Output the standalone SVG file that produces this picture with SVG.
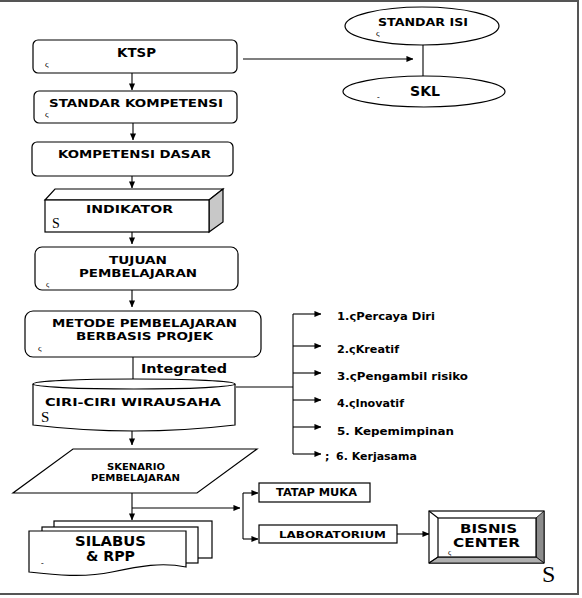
<svg xmlns="http://www.w3.org/2000/svg" width="582" height="598" viewBox="0 0 582 598">
<style>
.b{font-family:"DejaVu Sans",Verdana,sans-serif;font-weight:bold;fill:#000}
.g{font-family:"Liberation Serif","DejaVu Serif",serif;fill:#000}
.box{fill:#fff;stroke:#000;stroke-width:1.2}
.ln{stroke:#000;stroke-width:1.1;fill:none}
.frame{stroke:#555;stroke-width:2;fill:none}
</style>
<defs>
<marker id="ah" viewBox="0 0 8 8" refX="7.5" refY="4" markerWidth="7" markerHeight="7" markerUnits="userSpaceOnUse" orient="auto">
<path d="M0,0.5 L8,4 L0,7.5 Z" fill="#000"/>
</marker>
</defs>
<rect width="582" height="598" fill="#fff"/>
<path class="frame" d="M0,1 H578 V594 H0"/>

<g id="connectors">
<line class="ln" x1="132" y1="73" x2="132" y2="90" marker-end="url(#ah)"/>
<line class="ln" x1="133" y1="123" x2="133" y2="140" marker-end="url(#ah)"/>
<line class="ln" x1="132" y1="176" x2="132" y2="188" marker-end="url(#ah)"/>
<line class="ln" x1="132" y1="232" x2="132" y2="244" marker-end="url(#ah)"/>
<line class="ln" x1="132" y1="290" x2="132" y2="307" marker-end="url(#ah)"/>
<line class="ln" x1="133" y1="357" x2="133" y2="390" marker-end="url(#ah)"/>
<line class="ln" x1="132" y1="430" x2="132" y2="445" marker-end="url(#ah)"/>
<line class="ln" x1="132" y1="493" x2="132" y2="520" marker-end="url(#ah)"/>
<line class="ln" x1="243" y1="59" x2="413" y2="59" marker-end="url(#ah)"/>
<line class="ln" x1="423" y1="45" x2="423" y2="76"/>
<line class="ln" x1="236" y1="387" x2="293" y2="387"/>
<line class="ln" x1="293" y1="314" x2="293" y2="454"/>
<line class="ln" x1="293" y1="314" x2="321" y2="314" marker-end="url(#ah)"/>
<line class="ln" x1="293" y1="346" x2="321" y2="346" marker-end="url(#ah)"/>
<line class="ln" x1="293" y1="373" x2="321" y2="373" marker-end="url(#ah)"/>
<line class="ln" x1="293" y1="400" x2="321" y2="400" marker-end="url(#ah)"/>
<line class="ln" x1="293" y1="427" x2="321" y2="427" marker-end="url(#ah)"/>
<line class="ln" x1="293" y1="454" x2="321" y2="454" marker-end="url(#ah)"/>
<line class="ln" x1="132" y1="508" x2="240" y2="508" marker-end="url(#ah)"/>
<line class="ln" x1="243" y1="493" x2="243" y2="539"/>
<line class="ln" x1="243" y1="493" x2="258" y2="493" marker-end="url(#ah)"/>
<line class="ln" x1="243" y1="539" x2="258" y2="539" marker-end="url(#ah)"/>
<line class="ln" x1="397" y1="534" x2="429" y2="534" marker-end="url(#ah)"/>
</g>

<g id="ktsp">
<rect class="box" x="33" y="40" width="204" height="33" rx="5"/>
<text class="b" x="136.5" y="57" font-size="13" text-anchor="middle" textLength="39" lengthAdjust="spacingAndGlyphs">KTSP</text>
<text class="g" x="45" y="67" font-size="9">ς</text>
</g>

<g id="standar-kompetensi">
<rect class="box" x="34" y="91" width="203" height="32" rx="5"/>
<text class="b" x="136" y="107" font-size="11" text-anchor="middle" textLength="174" lengthAdjust="spacingAndGlyphs">STANDAR KOMPETENSI</text>
<text class="g" x="45" y="117" font-size="9">ς</text>
</g>

<g id="kompetensi-dasar">
<rect class="box" x="32" y="142" width="201" height="34" rx="5"/>
<text class="b" x="134.5" y="158" font-size="11" text-anchor="middle" textLength="153" lengthAdjust="spacingAndGlyphs">KOMPETENSI DASAR</text>
</g>

<g id="indikator">
<polygon class="box" points="45,200 55,189 223,189 209,200"/>
<polygon class="box" points="209,200 223,189 223,222 209,232" style="fill:#c8c8c8"/>
<rect class="box" x="45" y="200" width="164" height="32"/>
<text class="b" x="129.5" y="213" font-size="11" text-anchor="middle" textLength="87" lengthAdjust="spacingAndGlyphs">INDIKATOR</text>
<text class="g" x="52" y="228" font-size="14">S</text>
</g>

<g id="tujuan">
<rect class="box" x="35" y="247" width="203" height="43" rx="7"/>
<text class="b" x="138" y="264" font-size="11" text-anchor="middle" textLength="58" lengthAdjust="spacingAndGlyphs">TUJUAN</text>
<text class="b" x="138" y="277" font-size="11" text-anchor="middle" textLength="118" lengthAdjust="spacingAndGlyphs">PEMBELAJARAN</text>
<text class="g" x="46" y="287" font-size="8">ς</text>
</g>

<g id="metode">
<rect class="box" x="25" y="311" width="236" height="46" rx="8"/>
<text class="b" x="144.5" y="327" font-size="11" text-anchor="middle" textLength="185" lengthAdjust="spacingAndGlyphs">METODE PEMBELAJARAN</text>
<text class="b" x="144.5" y="340" font-size="11" text-anchor="middle" textLength="137" lengthAdjust="spacingAndGlyphs">BERBASIS PROJEK</text>
<text class="g" x="38" y="351" font-size="9">ς</text>
</g>

<text class="b" x="141" y="373" font-size="13" textLength="86" lengthAdjust="spacingAndGlyphs">Integrated</text>

<g id="ciri-ciri">
<path class="box" d="M33,384 V425 Q134,437 235,425 V384"/>
<ellipse class="box" cx="134" cy="384" rx="101" ry="5"/>
<text class="b" x="133" y="406" font-size="11" text-anchor="middle" textLength="176" lengthAdjust="spacingAndGlyphs">CIRI-CIRI WIRAUSAHA</text>
<text class="g" x="41" y="422" font-size="15">S</text>
</g>

<g id="standar-isi">
<ellipse class="box" cx="422" cy="26" rx="77" ry="19"/>
<text class="b" x="423" y="26" font-size="11" text-anchor="middle" textLength="90" lengthAdjust="spacingAndGlyphs">STANDAR ISI</text>
<text class="g" x="376" y="36" font-size="9">ς</text>
</g>

<g id="skl">
<ellipse class="box" cx="424" cy="91.5" rx="81" ry="15.5"/>
<text class="b" x="425" y="96" font-size="14" text-anchor="middle" textLength="30" lengthAdjust="spacingAndGlyphs">SKL</text>
<text class="g" x="377" y="100" font-size="8">-</text>
</g>

<g id="ciri-list">
<text class="b" x="337" y="320" font-size="11" textLength="98" lengthAdjust="spacingAndGlyphs">1.ςPercaya Diri</text>
<text class="b" x="337" y="353" font-size="11" textLength="62" lengthAdjust="spacingAndGlyphs">2.ςKreatif</text>
<text class="b" x="337" y="380" font-size="11" textLength="131" lengthAdjust="spacingAndGlyphs">3.ςPengambil risiko</text>
<text class="b" x="337" y="407" font-size="11" textLength="67" lengthAdjust="spacingAndGlyphs">4.ςInovatif</text>
<text class="b" x="337" y="435" font-size="11" textLength="117" lengthAdjust="spacingAndGlyphs">5. Kepemimpinan</text>
<text class="b" x="325" y="460" font-size="11">; <tspan x="336">6. Kerjasama</tspan></text>
</g>

<g id="skenario">
<polygon class="box" points="73,449 257,449 197,493 13,493"/>
<text class="b" x="136" y="470" font-size="9" text-anchor="middle" textLength="58" lengthAdjust="spacingAndGlyphs">SKENARIO</text>
<text class="b" x="135.5" y="481" font-size="9" text-anchor="middle" textLength="89" lengthAdjust="spacingAndGlyphs">PEMBELAJARAN</text>
</g>

<g id="silabus">
<rect class="box" x="54" y="521" width="158" height="37"/>
<rect class="box" x="42" y="527" width="156" height="36"/>
<path class="box" d="M29,531 H186 V567 C162,562 140,566 112,572 C84,578 55,575 29,572 Z"/>
<text class="b" x="110.5" y="546" font-size="13.5" text-anchor="middle" textLength="71" lengthAdjust="spacingAndGlyphs">SILABUS</text>
<text class="b" x="110.5" y="561" font-size="13.5" text-anchor="middle" textLength="49" lengthAdjust="spacingAndGlyphs">&amp; RPP</text>
<text class="g" x="41" y="566" font-size="8">-</text>
</g>

<g id="tatap-muka">
<rect class="box" x="259" y="483" width="111" height="19"/>
<text class="b" x="316.5" y="496" font-size="10" text-anchor="middle" textLength="81" lengthAdjust="spacingAndGlyphs">TATAP MUKA</text>
</g>

<g id="laboratorium">
<rect class="box" x="259" y="525" width="138" height="18"/>
<text class="b" x="332.5" y="538" font-size="9.5" text-anchor="middle" textLength="107" lengthAdjust="spacingAndGlyphs">LABORATORIUM</text>
</g>

<g id="bisnis-center">
<rect class="box" x="429" y="511" width="115" height="52"/>
<polygon points="536,518 544,511 544,563 536,557" fill="#8c8c8c" stroke="#000" stroke-width="0.8"/>
<polygon points="438,557 536,557 544,563 429,563" fill="#b0b0b0" stroke="#000" stroke-width="0.8"/>
<line class="ln" x1="429" y1="511" x2="438" y2="518"/>
<line class="ln" x1="429" y1="563" x2="438" y2="557"/>
<rect class="box" x="438" y="518" width="98" height="39"/>
<text class="b" x="488.5" y="533" font-size="12.5" text-anchor="middle" textLength="57" lengthAdjust="spacingAndGlyphs">BISNIS</text>
<text class="b" x="486.5" y="547" font-size="12.5" text-anchor="middle" textLength="67" lengthAdjust="spacingAndGlyphs">CENTER</text>
<text class="g" x="448" y="555" font-size="8">ς</text>
</g>
<text class="g" x="542" y="582" font-size="24">S</text>
</svg>
